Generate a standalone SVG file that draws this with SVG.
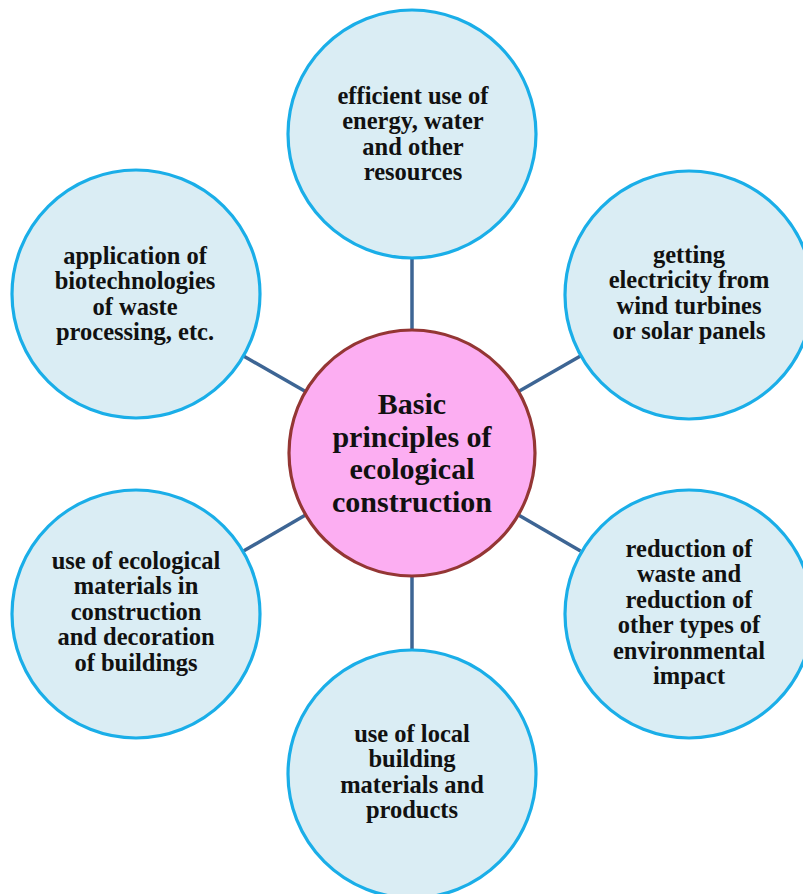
<svg xmlns="http://www.w3.org/2000/svg" width="803" height="894" viewBox="0 0 803 894">
<style>
.sat{fill:#daedf4;stroke:#1aaee8;stroke-width:3.2}
.hub{fill:#fcaef2;stroke:#943634;stroke-width:3.2}
.t{font-family:"Liberation Serif","Times New Roman",serif;font-weight:bold;font-size:24.5px;fill:#111;text-anchor:middle}
.h{font-family:"Liberation Serif","Times New Roman",serif;font-weight:bold;font-size:30px;fill:#111;text-anchor:middle}
.c{stroke:#3d6594;stroke-width:3.5;fill:none}
</style>
<rect width="803" height="894" fill="#fff"/>
<g id="connectors">
<line class="c" x1="412" y1="258" x2="412" y2="330"/>
<line class="c" x1="412" y1="576" x2="412" y2="650"/>
<line class="c" x1="305.5" y1="391.6" x2="243.5" y2="356"/>
<line class="c" x1="305.5" y1="515" x2="243.5" y2="551"/>
<line class="c" x1="518.5" y1="391.6" x2="580.5" y2="356"/>
<line class="c" x1="518.5" y1="515" x2="580.5" y2="551"/>
</g>
<g id="top">
<circle class="sat" cx="412" cy="134" r="124"/>
<text class="t" x="413" y="103.5">efficient use of</text>
<text class="t" x="413" y="129">energy, water</text>
<text class="t" x="413" y="154.5">and other</text>
<text class="t" x="413" y="180">resources</text>
</g>
<g id="left-top">
<circle class="sat" cx="136" cy="294" r="124"/>
<text class="t" x="135" y="263.5">application of</text>
<text class="t" x="135" y="289">biotechnologies</text>
<text class="t" x="135" y="314.5">of waste</text>
<text class="t" x="135" y="340">processing, etc.</text>
</g>
<g id="right-top">
<circle class="sat" cx="689" cy="295" r="124"/>
<text class="t" x="689" y="262.5">getting</text>
<text class="t" x="689" y="288">electricity from</text>
<text class="t" x="689" y="313.5">wind turbines</text>
<text class="t" x="689" y="339">or solar panels</text>
</g>
<g id="left-bottom">
<circle class="sat" cx="136" cy="614" r="124"/>
<text class="t" x="136" y="568.5">use of ecological</text>
<text class="t" x="136" y="594">materials in</text>
<text class="t" x="136" y="619.5">construction</text>
<text class="t" x="136" y="645">and decoration</text>
<text class="t" x="136" y="670.5">of buildings</text>
</g>
<g id="right-bottom">
<circle class="sat" cx="689" cy="614" r="124"/>
<text class="t" x="689" y="556.5">reduction of</text>
<text class="t" x="689" y="582">waste and</text>
<text class="t" x="689" y="607.5">reduction of</text>
<text class="t" x="689" y="633">other types of</text>
<text class="t" x="689" y="658.5">environmental</text>
<text class="t" x="689" y="684">impact</text>
</g>
<g id="bottom">
<circle class="sat" cx="412" cy="774" r="124"/>
<text class="t" x="412" y="741.5">use of local</text>
<text class="t" x="412" y="767">building</text>
<text class="t" x="412" y="792.5">materials and</text>
<text class="t" x="412" y="818">products</text>
</g>
<g id="center">
<circle class="hub" cx="412" cy="453" r="123"/>
<text class="h" x="412" y="414">Basic</text>
<text class="h" x="412" y="446.5">principles of</text>
<text class="h" x="412" y="479">ecological</text>
<text class="h" x="412" y="511.5">construction</text>
</g>
</svg>
